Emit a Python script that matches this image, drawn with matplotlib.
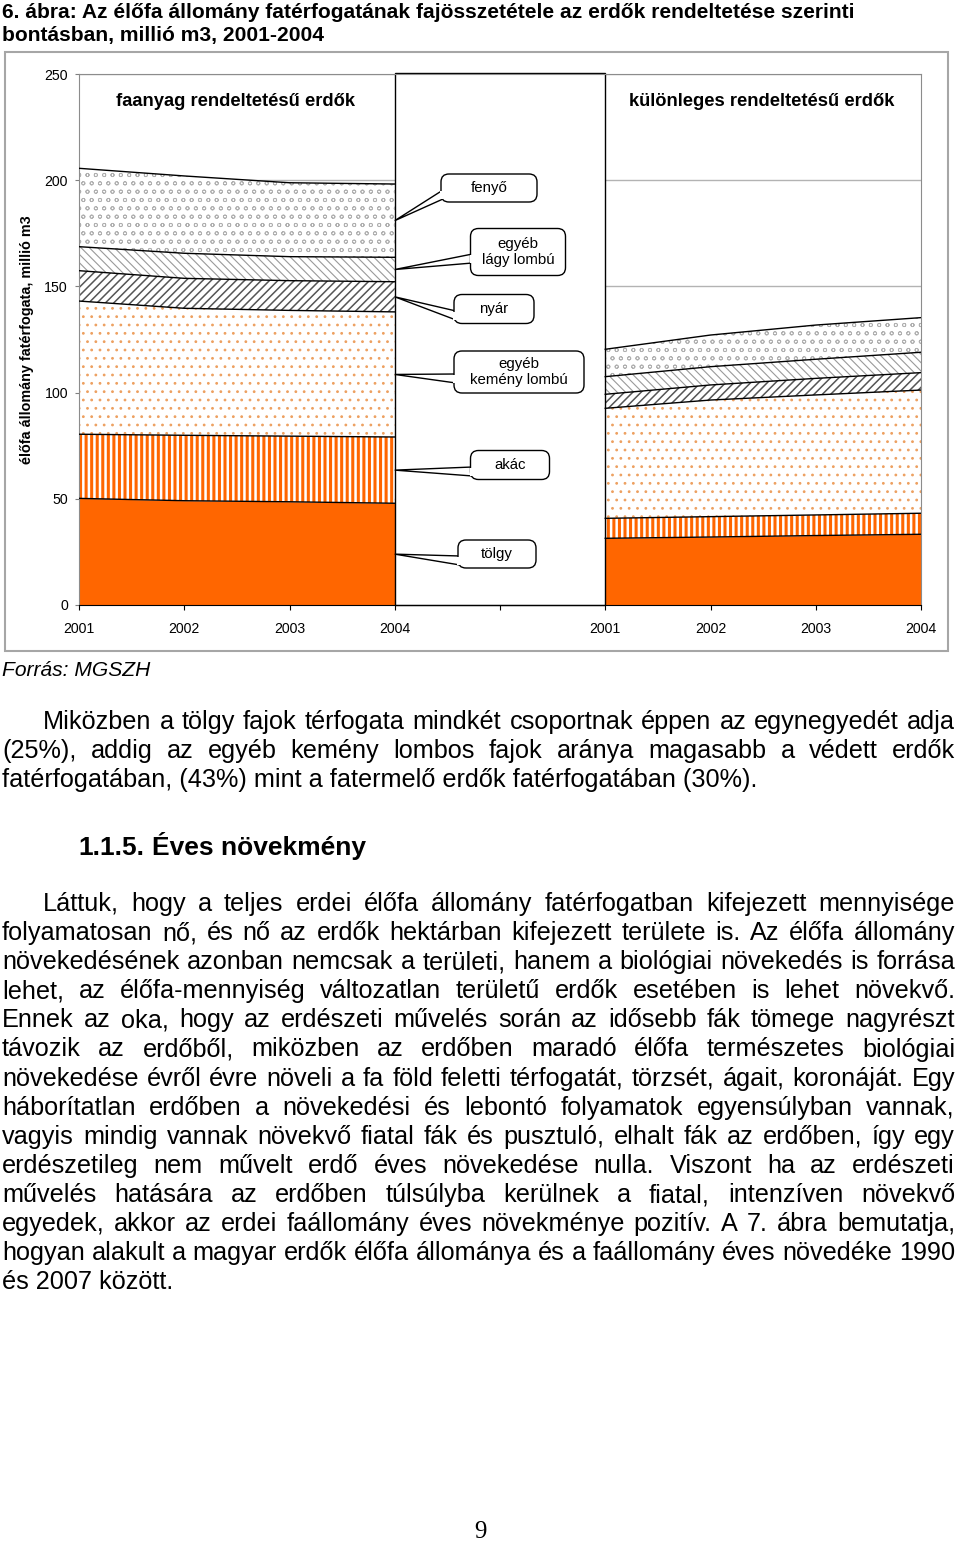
import matplotlib
matplotlib.use('Agg')
import matplotlib.pyplot as plt
from matplotlib.patches import Rectangle, FancyBboxPatch, Polygon
import numpy as np

plt.rcParams['font.family'] = ['Liberation Sans', 'DejaVu Sans']

# ---- data (million m3) ----
years = ['2001', '2002', '2003', '2004']
species = ['tölgy', 'akác', 'egyéb\nkemény lombú', 'nyár', 'egyéb\nlágy lombú', 'fenyő']

# faanyag rendeltetésű erdők
faanyag_tolgy = [50.2, 49.1, 48.6, 47.9]
faanyag_akac = [30.2, 30.8, 30.9, 31.2]
faanyag_kemeny = [62.7, 59.8, 59.2, 58.9]
faanyag_nyar = [14.3, 14.1, 14.0, 14.2]
faanyag_lagy = [11.3, 11.8, 11.3, 11.5]
faanyag_fenyo = [36.9, 36.4, 34.8, 34.5]

# különleges rendeltetésű erdők
kulonl_tolgy = [31.4, 32.0, 32.7, 33.3]
kulonl_akac = [9.4, 9.6, 9.7, 9.9]
kulonl_kemeny = [51.8, 54.9, 56.5, 58.0]
kulonl_nyar = [6.6, 7.1, 7.8, 8.2]
kulonl_lagy = [8.3, 8.6, 9.0, 9.6]
kulonl_fenyo = [12.9, 14.9, 16.1, 16.3]

title_lines = ['6. ábra: Az élőfa állomány fatérfogatának fajösszetétele az erdők rendeltetése szerinti',
               'bontásban, millió m3, 2001-2004']
group_titles = ['faanyag rendeltetésű erdők', 'különleges rendeltetésű erdők']
ylabel = 'élőfa állomány fatérfogata, millió m3'
source = 'Forrás: MGSZH'

para1 = ['Miközben a tölgy fajok térfogata mindkét csoportnak éppen az egynegyedét adja',
         '(25%), addig az egyéb kemény lombos fajok aránya magasabb a védett erdők',
         'fatérfogatában, (43%) mint a fatermelő erdők fatérfogatában (30%).']
heading = ['1.1.5.', 'Éves növekmény']
para2 = ['Láttuk, hogy a teljes erdei élőfa állomány fatérfogatban kifejezett mennyisége',
         'folyamatosan nő, és nő az erdők hektárban kifejezett területe is. Az élőfa állomány',
         'növekedésének azonban nemcsak a területi, hanem a biológiai növekedés is forrása',
         'lehet, az élőfa-mennyiség változatlan területű erdők esetében is lehet növekvő.',
         'Ennek az oka, hogy az erdészeti művelés során az idősebb fák tömege nagyrészt',
         'távozik az erdőből, miközben az erdőben maradó élőfa természetes biológiai',
         'növekedése évről évre növeli a fa föld feletti térfogatát, törzsét, ágait, koronáját. Egy',
         'háborítatlan erdőben a növekedési és lebontó folyamatok egyensúlyban vannak,',
         'vagyis mindig vannak növekvő fiatal fák és pusztuló, elhalt fák az erdőben, így egy',
         'erdészetileg nem művelt erdő éves növekedése nulla. Viszont ha az erdészeti',
         'művelés hatására az erdőben túlsúlyba kerülnek a fiatal, intenzíven növekvő',
         'egyedek, akkor az erdei faállomány éves növekménye pozitív. A 7. ábra bemutatja,',
         'hogyan alakult a magyar erdők élőfa állománya és a faállomány éves növedéke 1990',
         'és 2007 között.']
page_no = '9'

W, H = 960, 1545
fig = plt.figure(figsize=(W / 100, H / 100), dpi=100)

# overlay in pixel coordinates for page text / frames
ov = fig.add_axes([0, 0, 1, 1], zorder=5)
ov.set_xlim(0, W)
ov.set_ylim(H, 0)
ov.axis('off')

# chart frame
ov.add_patch(Rectangle((5, 52), 943, 599, fill=False, ec='#A6A6A6', lw=1.5))

ax = fig.add_axes([79 / W, 1 - 605 / H, (921 - 79) / W, (605 - 74) / H])
ax.set_xlim(0, 8)
ax.set_ylim(0, 250)

# layer styles: facecolor, hatch, hatch colour, hatch linewidth
styles = [
    ('#FF6600', None, '#FF6600', 1.0),
    ('white', '|||', '#FF6600', 2.2),
    ('white', '..', '#EDA060', 0.8),
    ('white', '////', '#555555', 1.1),
    ('white', '\\\\\\\\', '#9A9A9A', 0.8),
    ('white', 'oo', '#B0B0B0', 0.6),
]


def draw_group(xs, layers):
    base = np.zeros(len(xs))
    mids = []
    for vals, (fc, hatch, hc, hlw) in zip(layers, styles):
        top = base + np.array(vals)
        with plt.rc_context({'hatch.linewidth': hlw}):
            pc = ax.fill_between(xs, base, top, facecolor=fc, edgecolor=hc,
                                 hatch=hatch, linewidth=0, zorder=2)
        if hasattr(pc, 'set_hatch_linewidth'):
            pc.set_hatch_linewidth(hlw)
        ax.plot(xs, top, color='black', lw=1, zorder=3)
        mids.append((base[-1] + top[-1]) / 2)
        base = top
    return mids


left_x = np.arange(4)
right_x = np.arange(5, 9)
left_mids = draw_group(left_x, [faanyag_tolgy, faanyag_akac, faanyag_kemeny,
                                faanyag_nyar, faanyag_lagy, faanyag_fenyo])
draw_group(right_x, [kulonl_tolgy, kulonl_akac, kulonl_kemeny,
                     kulonl_nyar, kulonl_lagy, kulonl_fenyo])

# middle white box holding the callouts
ax.add_patch(Rectangle((3, 0), 2, 250.6, fc='white', ec='black', lw=1,
                       zorder=2.5, clip_on=False))

ax.set_yticks(range(0, 251, 50))
ax.yaxis.grid(True, color='#B3B3B3', lw=1)
ax.set_axisbelow(True)
ax.set_xticks(range(9))
ax.set_xticklabels(years + [''] + years)
ax.tick_params(axis='x', length=3.5, width=0.8, color='black', pad=9, labelsize=10.2)
ax.tick_params(axis='y', length=3, width=0.8, color='#808080', pad=5, labelsize=10.2)
for s in ['left', 'top', 'right']:
    ax.spines[s].set_color('#8C8C8C')
ax.spines['bottom'].set_color('black')
ax.spines['bottom'].set_zorder(4)

# callouts (box centre x, centre y, width, height in pixels)
callout_boxes = [(497, 554, 78, 28), (510, 465, 79, 29), (519, 372, 130, 42),
                 (494, 309, 80, 29), (518, 252, 95, 47), (489, 188, 96, 28)]
for name, (cx, cy, bw, bh), mid in zip(species, callout_boxes, left_mids):
    apex = ov.transData.inverted().transform(ax.transData.transform((3, mid)))
    bx = cx - bw / 2
    ov.add_patch(Polygon([apex, (bx + 2, cy + 2), (bx + 2, cy + 11)], closed=True,
                         fc='white', ec='black', lw=1, zorder=1))
    ov.add_patch(FancyBboxPatch((bx, cy - bh / 2), bw, bh,
                                boxstyle='round,pad=0,rounding_size=8',
                                fc='white', ec='black', lw=1, zorder=2))
    ov.add_patch(Rectangle((bx - 1, cy + 2.5), 3, 8, fc='white', ec='none', zorder=2.1))
    ov.text(cx, cy, name, ha='center', va='center', fontsize=10.8, linespacing=1.25, zorder=3)

# chart texts
ov.text(236, 102, group_titles[0], ha='center', va='center', fontsize=13.2, fontweight='bold')
ov.text(762, 102, group_titles[1], ha='center', va='center', fontsize=13.2, fontweight='bold')
ov.text(27, 340, ylabel, ha='center', va='center', rotation=90, fontsize=10.4, fontweight='bold')

# page texts
ov.text(2, 18, title_lines[0], ha='left', va='baseline', fontsize=15.1, fontweight='bold')
ov.text(2, 41, title_lines[1], ha='left', va='baseline', fontsize=15.1, fontweight='bold')
ov.text(2, 676, source, ha='left', va='baseline', fontsize=15.1, style='italic')

renderer = fig.canvas.get_renderer()
BODY = 18.15
RIGHT = 955


def put_line(text, x0, y, justify, **kw):
    if not justify:
        ov.text(x0, y, text, ha='left', va='baseline', fontsize=BODY, **kw)
        return
    words = text.split(' ')
    objs = [ov.text(0, y, w, ha='left', va='baseline', fontsize=BODY, **kw) for w in words]
    widths = [o.get_window_extent(renderer).width for o in objs]
    gap = (RIGHT - x0 - sum(widths)) / (len(words) - 1)
    x = x0
    for o, w in zip(objs, widths):
        o.set_x(x)
        x += w + gap


def put_paragraph(lines, y0, pitch):
    for i, line in enumerate(lines):
        x0 = 43 if i == 0 else 2
        put_line(line, x0, y0 + i * pitch, justify=(i < len(lines) - 1))


put_paragraph(para1, 729, 29.1)
ov.text(78, 855, heading[0], ha='left', va='baseline', fontsize=19, fontweight='bold')
ov.text(152, 855, heading[1], ha='left', va='baseline', fontsize=19, fontweight='bold')
put_paragraph(para2, 911, 29.1)

ov.text(480, 1532, page_no, ha='center', va='center', fontsize=18,
        family=['Liberation Serif', 'DejaVu Serif'])

fig.savefig('out.png', dpi=100)
